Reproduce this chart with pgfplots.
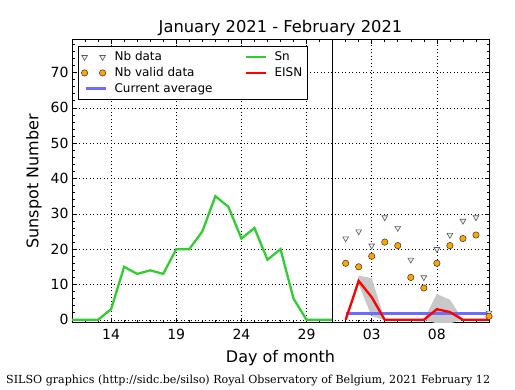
\documentclass[border=0pt]{standalone}
\usepackage{pgfplots}
\usepackage{pgfplotstable}
\pgfplotsset{compat=1.18}
\usepgfplotslibrary{fillbetween}
\usepackage{fontspec}
\setmainfont{DejaVu Sans}
\newfontfamily\footfont{DejaVu Serif}
\definecolor{sngreen}{RGB}{50,205,50}
\definecolor{avgblue}{RGB}{108,108,255}
\definecolor{bandgray}{RGB}{200,200,200}
\definecolor{dotorange}{RGB}{255,165,0}
\definecolor{trigray}{RGB}{90,90,90}
\definecolor{eisnred}{RGB}{255,0,0}

\pgfplotstableread{
day sn
11 0
12 0
13 0
14 3
15 15
16 13
17 14
18 13
19 20
20 20
21 25
22 35
23 32
24 23
25 26
26 17
27 20
28 6
29 0
30 0
31 0
}\sndata

\pgfplotstableread{
day nb valid eisn lo up avg
32 23 16 0 0 0 1.7
33 25 15 11 10 12.5 1.7
34 21 18 6.4 1 11.8 1.7
35 29 22 0 0 0 1.7
36 26 21 0 0 0 1.7
37 17 12 0 0 0 1.7
38 12 9 0 0 0 1.7
39 20 16 3 -1 7.3 1.7
40 24 21 2.2 -1 5.7 1.7
41 28 23 0 0 0 1.7
42 29 24 0 0 0 1.7
43 2 1 0 0 0 1.7
}\febdata

\begin{document}
\begin{tikzpicture}
\path (0,0) rectangle (515bp,390bp);
\begin{axis}[
  at={(72bp,67bp)}, anchor=south west,
  scale only axis, width=417bp, height=283bp,
  xmin=11, xmax=43, ymin=-0.9, ymax=79.2,
  xtick={14,19,24,29,34,39},
  xticklabels={14,19,24,29,03,08},
  minor xtick={11,...,43},
  ytick={0,10,...,70},
  minor ytick={0,2,...,78},
  tick align=inside,
  major tick length=4.5bp, minor tick length=2.5bp,
  every tick/.style={black, line width=0.6bp},
  axis line style={black, line width=1bp},
  grid=major,
  major grid style={black, line width=0.6bp, dash pattern=on 1bp off 2.5bp},
  /pgf/number format/assume math mode=true,
  tick label style={font=\fontsize{14bp}{16bp}\selectfont},
  xticklabel style={yshift=-3bp},
  xlabel={Day of month}, ylabel={Sunspot Number},
  label style={font=\fontsize{16bp}{18bp}\selectfont},
  xlabel style={yshift=-3bp},
  ylabel style={yshift=2bp},
  title={January 2021 - February 2021},
  title style={font=\fontsize{16.3bp}{18bp}\selectfont, yshift=-5bp},
  legend columns=2,
  legend cell align=left,
  legend image code/.code={\draw[#1] (4bp,0bp) -- (24bp,0bp); \path[draw=none, fill=none] (0bp,-4bp) rectangle (31bp,4bp);},
  legend style={at={(0.0144,0.979)}, anchor=north west,
    draw=black, line width=0.8bp, fill=white,
    font=\fontsize{12bp}{14bp}\selectfont,
    /tikz/every even column/.append style={column sep=27bp},
    row sep=1.2bp,
    inner xsep=3bp, inner ysep=3.5bp},
]
\addplot[name path=up, draw=none, forget plot] table[x=day, y=up] {\febdata};
\addplot[name path=lo, draw=none, forget plot] table[x=day, y=lo] {\febdata};
\addplot[bandgray, forget plot] fill between[of=up and lo];
\addplot[avgblue, line width=3bp, forget plot] table[x=day, y=avg] {\febdata};
\addplot[sngreen, line width=2.3bp, forget plot] table[x=day, y=sn] {\sndata};
\addplot[eisnred, line width=2.3bp, forget plot] table[x=day, y=eisn] {\febdata};
\addplot[only marks, mark=triangle*, mark size=3.3bp, mark options={rotate=180, fill=white!88!gray, draw=trigray, line width=0.6bp}, forget plot] table[x=day, y=nb] {\febdata};
\addplot[only marks, mark=*, mark size=3.2bp, mark options={fill=dotorange, draw=black!80, line width=0.5bp}, forget plot] table[x=day, y=valid] {\febdata};
\addplot[black, line width=1.5bp, forget plot] coordinates {(31,-0.9) (31,79.2)};

\addlegendimage{legend image code/.code={\path plot[only marks, mark=triangle*, mark size=3.3bp, mark options={rotate=180, fill=white!88!gray, draw=trigray, line width=0.6bp}] coordinates {(3bp,0bp) (21bp,0bp)}; \path[draw=none, fill=none] (0bp,-4bp) rectangle (31bp,4bp);}}
\addlegendentry{Nb data}
\addlegendimage{sngreen, line width=2.3bp}
\addlegendentry{Sn}
\addlegendimage{legend image code/.code={\path plot[only marks, mark=*, mark size=3.2bp, mark options={fill=dotorange, draw=black!80, line width=0.5bp}] coordinates {(3bp,0bp) (21bp,0bp)}; \path[draw=none, fill=none] (0bp,-4bp) rectangle (31bp,4bp);}}
\addlegendentry{Nb valid data}
\addlegendimage{eisnred, line width=2.3bp}
\addlegendentry{EISN}
\addlegendimage{avgblue, line width=3bp}
\addlegendentry{Current average}
\end{axis}
\node[anchor=base west, inner sep=0pt] at (6bp,7bp) {\footfont\fontsize{11.1bp}{13bp}\selectfont SILSO graphics (http://sidc.be/silso) Royal Observatory of Belgium, 2021 February 12};
\end{tikzpicture}
\end{document}
